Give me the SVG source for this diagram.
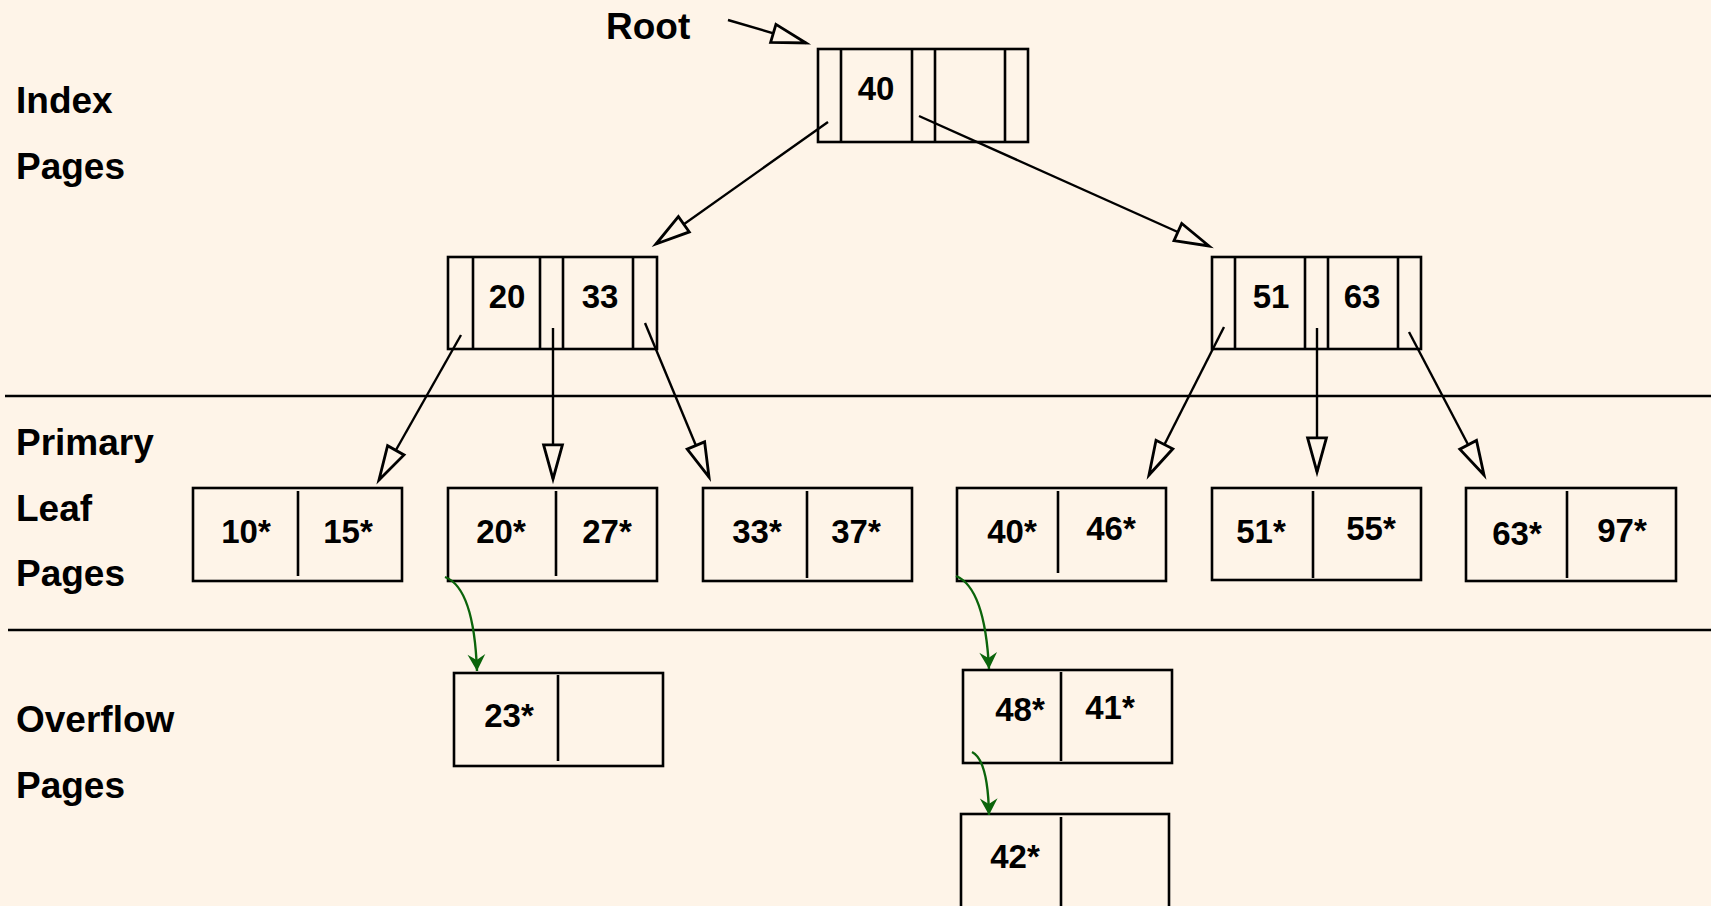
<svg xmlns="http://www.w3.org/2000/svg" width="1711" height="906" viewBox="0 0 1711 906">
<defs>
<style>
.bx{fill:none;stroke:#000;stroke-width:2.6}
.dv{stroke:#000;stroke-width:2.6}
.t{font-family:"Liberation Sans",Arial,sans-serif;font-weight:bold;font-size:33px;fill:#000;text-anchor:middle}
.lb{font-family:"Liberation Sans",Arial,sans-serif;font-weight:bold;font-size:37px;fill:#000}
.ptr{stroke:#000;stroke-width:2.4;fill:none;marker-end:url(#hollow)}
.ov{stroke:#0b640b;stroke-width:2.4;fill:none;marker-end:url(#green)}
.sep{stroke:#000;stroke-width:2.6}
</style>
<marker id="hollow" markerUnits="userSpaceOnUse" markerWidth="40" markerHeight="24" refX="0" refY="0" viewBox="-32 -10 34 20" orient="auto" overflow="visible">
<path d="M0,0 L-29,-8 L-29,8 Z" fill="#fef4e8" stroke="#000" stroke-width="2.4" stroke-linejoin="miter"/>
</marker>
<marker id="green" markerUnits="userSpaceOnUse" markerWidth="20" markerHeight="20" refX="0" refY="0" viewBox="-16 -9 18 18" orient="auto" overflow="visible">
<path d="M0,0 L-15,-8 L-10,0 L-15,8 Z" fill="#0b640b"/>
</marker>
</defs>
<rect x="0" y="0" width="1711" height="906" fill="#fef4e8"/>

<g id="labels">
<text class="lb" x="606" y="39">Root</text>
<text class="lb" x="16" y="113">Index</text>
<text class="lb" x="16" y="179">Pages</text>
<text class="lb" x="16" y="455">Primary</text>
<text class="lb" x="16" y="521">Leaf</text>
<text class="lb" x="16" y="586">Pages</text>
<text class="lb" x="16" y="732">Overflow</text>
<text class="lb" x="16" y="798">Pages</text>
</g>

<g id="separators">
<line class="sep" x1="5" y1="396" x2="1711" y2="396"/>
<line class="sep" x1="8" y1="630" x2="1711" y2="630"/>
</g>

<g id="root">
<rect class="bx" x="818" y="49" width="210" height="93"/>
<line class="dv" x1="841" y1="49" x2="841" y2="142"/>
<line class="dv" x1="912" y1="49" x2="912" y2="142"/>
<line class="dv" x1="935" y1="49" x2="935" y2="142"/>
<line class="dv" x1="1005" y1="49" x2="1005" y2="142"/>
<text class="t" x="876" y="100">40</text>
</g>

<g id="index-left">
<rect class="bx" x="448" y="257" width="209" height="92"/>
<line class="dv" x1="473" y1="257" x2="473" y2="349"/>
<line class="dv" x1="540" y1="257" x2="540" y2="349"/>
<line class="dv" x1="563" y1="257" x2="563" y2="349"/>
<line class="dv" x1="633" y1="257" x2="633" y2="349"/>
<text class="t" x="507" y="308">20</text>
<text class="t" x="600" y="308">33</text>
</g>

<g id="index-right">
<rect class="bx" x="1212" y="257" width="209" height="92"/>
<line class="dv" x1="1235" y1="257" x2="1235" y2="349"/>
<line class="dv" x1="1305" y1="257" x2="1305" y2="349"/>
<line class="dv" x1="1328" y1="257" x2="1328" y2="349"/>
<line class="dv" x1="1398" y1="257" x2="1398" y2="349"/>
<text class="t" x="1271" y="308">51</text>
<text class="t" x="1362" y="308">63</text>
</g>

<g id="leaf1">
<rect class="bx" x="193" y="488" width="209" height="93"/>
<line class="dv" x1="298" y1="491" x2="298" y2="576"/>
<text class="t" x="246" y="543">10*</text>
<text class="t" x="348" y="543">15*</text>
</g>
<g id="leaf2">
<rect class="bx" x="448" y="488" width="209" height="93"/>
<line class="dv" x1="556" y1="491" x2="556" y2="576"/>
<text class="t" x="501" y="543">20*</text>
<text class="t" x="607" y="543">27*</text>
</g>
<g id="leaf3">
<rect class="bx" x="703" y="488" width="209" height="93"/>
<line class="dv" x1="807" y1="491" x2="807" y2="578"/>
<text class="t" x="757" y="543">33*</text>
<text class="t" x="856" y="543">37*</text>
</g>
<g id="leaf4">
<rect class="bx" x="957" y="488" width="209" height="93"/>
<line class="dv" x1="1058" y1="491" x2="1058" y2="573"/>
<text class="t" x="1012" y="543">40*</text>
<text class="t" x="1111" y="540">46*</text>
</g>
<g id="leaf5">
<rect class="bx" x="1212" y="488" width="209" height="92"/>
<line class="dv" x1="1313" y1="491" x2="1313" y2="578"/>
<text class="t" x="1261" y="543">51*</text>
<text class="t" x="1371" y="540">55*</text>
</g>
<g id="leaf6">
<rect class="bx" x="1466" y="488" width="210" height="93"/>
<line class="dv" x1="1567" y1="491" x2="1567" y2="578"/>
<text class="t" x="1517" y="545">63*</text>
<text class="t" x="1622" y="542">97*</text>
</g>

<g id="overflow1">
<rect class="bx" x="454" y="673" width="209" height="93"/>
<line class="dv" x1="558" y1="675" x2="558" y2="761"/>
<text class="t" x="509" y="727">23*</text>
</g>
<g id="overflow2">
<rect class="bx" x="963" y="670" width="209" height="93"/>
<line class="dv" x1="1061" y1="672" x2="1061" y2="761"/>
<text class="t" x="1020" y="721">48*</text>
<text class="t" x="1110" y="719">41*</text>
</g>
<g id="overflow3">
<rect class="bx" x="961" y="814" width="208" height="100"/>
<line class="dv" x1="1061" y1="817" x2="1061" y2="906"/>
<text class="t" x="1015" y="868">42*</text>
</g>

<g id="connectors">
<line class="ptr" x1="728" y1="20" x2="806" y2="43"/>
<line class="ptr" x1="828" y1="122" x2="656" y2="244"/>
<line class="ptr" x1="919" y1="116" x2="1209" y2="246"/>
<line class="ptr" x1="461" y1="335" x2="379" y2="480"/>
<line class="ptr" x1="553" y1="328" x2="553" y2="479"/>
<line class="ptr" x1="645" y1="323" x2="709" y2="477"/>
<line class="ptr" x1="1224" y1="327" x2="1149" y2="475"/>
<line class="ptr" x1="1317" y1="328" x2="1317" y2="472"/>
<line class="ptr" x1="1409" y1="332" x2="1484" y2="475"/>
<path class="ov" d="M445,577 Q474,588 477,671"/>
<path class="ov" d="M956,576 Q985,588 989,669"/>
<path class="ov" d="M972,752 Q988,760 989,815"/>
</g>
</svg>
